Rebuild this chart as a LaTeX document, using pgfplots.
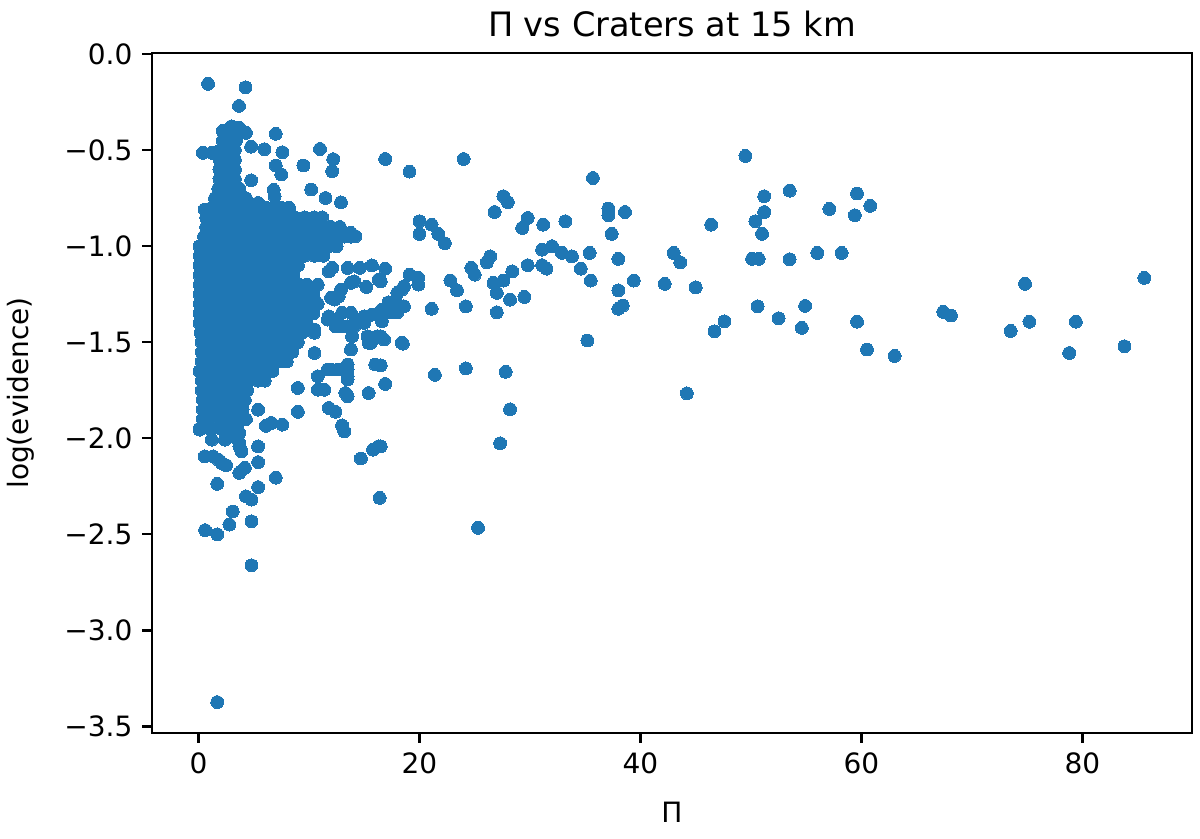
\documentclass[border=0pt]{standalone}
\usepackage{fontspec}
\setmainfont{DejaVu Sans}
\usepackage{pgfplots}
\pgfplotsset{compat=1.18}
\definecolor{mplblue}{RGB}{31,119,180}

\begin{document}
\begin{tikzpicture}
\begin{axis}[
    scale only axis,
    width=371.4pt, height=242.9pt,
    xmin=-4.2, xmax=89.9,
    ymin=-3.534, ymax=0.006,
    axis line style={line width=0.8pt},
    tick style={line width=0.8pt, black},
    tick align=outside,
    major tick length=3.5pt,
    xtick pos=bottom, ytick pos=left,
    xtick={0,20,40,60,80},
    xticklabels={0,20,40,60,80},
    ytick={-3.5,-3.0,-2.5,-2.0,-1.5,-1.0,-0.5,0.0},
    yticklabels={−3.5,−3.0,−2.5,−2.0,−1.5,−1.0,−0.5,0.0},
    tick label style={font=\fontsize{10pt}{12pt}\selectfont},
    every axis title shift=0pt,
    title={Π vs Craters at 15 km},
    title style={font=\fontsize{12pt}{14pt}\selectfont, at={(axis description cs:0.5,1.0235)}, anchor=base},
    xlabel={Π},
    xlabel style={font=\fontsize{10pt}{12pt}\selectfont, at={(axis description cs:0.5,-0.1317)}, anchor=base},
    ylabel={log(evidence)},
    ylabel style={font=\fontsize{10pt}{12pt}\selectfont, at={(axis description cs:-0.126,0.5)}, anchor=center},
    dot/.style={only marks, color=mplblue, mark=*, mark size=2.3pt, mark options={line width=0pt, draw=mplblue, fill=mplblue}},
]
% dense cluster near small Pi
\addplot[dot] coordinates {
(2.2,-0.45)(2.9,-0.45)(3.4,-0.45)
(2.0,-0.50)(2.7,-0.50)(3.3,-0.50)
(1.9,-0.55)(2.6,-0.55)(3.3,-0.55)
(1.9,-0.60)(2.6,-0.60)(3.3,-0.60)
(1.9,-0.65)(2.6,-0.65)(3.3,-0.65)
(1.8,-0.70)(2.5,-0.70)(3.2,-0.70)(3.7,-0.70)
(1.5,-0.75)(2.2,-0.75)(2.9,-0.75)(3.6,-0.75)(4.3,-0.75)
(1.2,-0.80)(1.9,-0.80)(2.6,-0.80)(3.3,-0.80)(4.0,-0.80)(4.7,-0.80)(5.4,-0.80)(6.1,-0.80)(6.8,-0.80)(7.5,-0.80)(8.2,-0.80)
(0.7,-0.85)(1.5,-0.85)(2.4,-0.85)(3.3,-0.85)(4.2,-0.85)(5.1,-0.85)(6.0,-0.85)(6.9,-0.85)(7.8,-0.85)(8.7,-0.85)(9.6,-0.85)(10.5,-0.85)(11.2,-0.85)
(0.7,-0.90)(1.2,-0.90)(2.1,-0.90)(3.0,-0.90)(3.9,-0.90)(4.8,-0.90)(5.7,-0.90)(6.6,-0.90)(7.5,-0.90)(8.4,-0.90)(9.3,-0.90)(10.2,-0.90)(11.1,-0.90)(12.0,-0.90)(12.8,-0.90)
(0.5,-0.95)(1.5,-0.95)(2.4,-0.95)(3.3,-0.95)(4.2,-0.95)(5.1,-0.95)(6.0,-0.95)(6.9,-0.95)(7.8,-0.95)(8.7,-0.95)(9.6,-0.95)(10.5,-0.95)(11.4,-0.95)(12.3,-0.95)(13.2,-0.95)(13.8,-0.95)
(0.1,-1.00)(1.0,-1.00)(1.9,-1.00)(2.8,-1.00)(3.7,-1.00)(4.6,-1.00)(5.5,-1.00)(6.4,-1.00)(7.3,-1.00)(8.2,-1.00)(9.1,-1.00)(10.0,-1.00)(10.9,-1.00)(11.8,-1.00)(12.5,-1.00)
(0.1,-1.05)(0.6,-1.05)(1.5,-1.05)(2.4,-1.05)(3.3,-1.05)(4.2,-1.05)(5.1,-1.05)(6.0,-1.05)(6.9,-1.05)(7.8,-1.05)(8.7,-1.05)(9.6,-1.05)(10.5,-1.05)(11.3,-1.05)
(0.1,-1.10)(1.0,-1.10)(1.9,-1.10)(2.8,-1.10)(3.7,-1.10)(4.6,-1.10)(5.5,-1.10)(6.4,-1.10)(7.3,-1.10)(8.2,-1.10)(9.0,-1.10)
(0.1,-1.15)(0.6,-1.15)(1.5,-1.15)(2.4,-1.15)(3.3,-1.15)(4.2,-1.15)(5.1,-1.15)(6.0,-1.15)(6.9,-1.15)(7.8,-1.15)(8.6,-1.15)
(0.1,-1.20)(1.0,-1.20)(1.9,-1.20)(2.8,-1.20)(3.7,-1.20)(4.6,-1.20)(5.5,-1.20)(6.4,-1.20)(7.3,-1.20)(8.2,-1.20)(9.1,-1.20)(9.8,-1.20)
(0.1,-1.25)(0.6,-1.25)(1.5,-1.25)(2.4,-1.25)(3.3,-1.25)(4.2,-1.25)(5.1,-1.25)(6.0,-1.25)(6.9,-1.25)(7.8,-1.25)(8.7,-1.25)(9.6,-1.25)(10.4,-1.25)
(0.1,-1.30)(1.0,-1.30)(1.9,-1.30)(2.8,-1.30)(3.7,-1.30)(4.6,-1.30)(5.5,-1.30)(6.4,-1.30)(7.3,-1.30)(8.2,-1.30)(9.1,-1.30)(10.0,-1.30)(10.8,-1.30)
(0.1,-1.35)(0.6,-1.35)(1.5,-1.35)(2.4,-1.35)(3.3,-1.35)(4.2,-1.35)(5.1,-1.35)(6.0,-1.35)(6.9,-1.35)(7.8,-1.35)(8.7,-1.35)(9.6,-1.35)(10.4,-1.35)
(0.1,-1.40)(1.0,-1.40)(1.9,-1.40)(2.8,-1.40)(3.7,-1.40)(4.6,-1.40)(5.5,-1.40)(6.4,-1.40)(7.3,-1.40)(8.2,-1.40)(9.1,-1.40)(9.8,-1.40)
(0.2,-1.45)(0.6,-1.45)(1.5,-1.45)(2.4,-1.45)(3.3,-1.45)(4.2,-1.45)(5.1,-1.45)(6.0,-1.45)(6.9,-1.45)(7.8,-1.45)(8.7,-1.45)(9.4,-1.45)
(0.3,-1.50)(1.0,-1.50)(1.9,-1.50)(2.8,-1.50)(3.7,-1.50)(4.6,-1.50)(5.5,-1.50)(6.4,-1.50)(7.3,-1.50)(8.2,-1.50)(9.0,-1.50)
(0.3,-1.55)(0.8,-1.55)(1.5,-1.55)(2.4,-1.55)(3.3,-1.55)(4.2,-1.55)(5.1,-1.55)(6.0,-1.55)(6.9,-1.55)(7.8,-1.55)(8.5,-1.55)
(0.3,-1.60)(1.0,-1.60)(1.9,-1.60)(2.8,-1.60)(3.7,-1.60)(4.6,-1.60)(5.5,-1.60)(6.4,-1.60)(7.3,-1.60)(8.0,-1.60)
(0.1,-1.65)(0.6,-1.65)(1.5,-1.65)(2.4,-1.65)(3.3,-1.65)(4.2,-1.65)(5.1,-1.65)(6.0,-1.65)(6.7,-1.65)
(0.3,-1.70)(1.0,-1.70)(1.9,-1.70)(2.8,-1.70)(3.7,-1.70)(4.6,-1.70)(5.4,-1.70)(6.0,-1.70)
(0.3,-1.75)(0.8,-1.75)(1.5,-1.75)(2.4,-1.75)(3.3,-1.75)(4.0,-1.75)(4.4,-1.75)
(0.4,-1.80)(1.0,-1.80)(1.9,-1.80)(2.8,-1.80)(3.7,-1.80)(4.2,-1.80)
(0.4,-1.85)(0.8,-1.85)(1.5,-1.85)(2.4,-1.85)(3.3,-1.85)(4.0,-1.85)
(0.4,-1.90)(1.0,-1.90)(1.9,-1.90)(2.8,-1.90)(3.7,-1.90)(4.3,-1.90)
(0.1,-1.95)(1.0,-1.95)(2.0,-1.95)(2.9,-1.95)(3.5,-1.95)
};
% scattered points
\addplot[dot] coordinates {
(0.87,-0.155)(4.26,-0.173)(3.67,-0.270)
(2.2,-0.40)(3.0,-0.376)(3.7,-0.384)(4.3,-0.41)(3.1,-0.436)(2.5,-0.462)
(0.4,-0.514)(1.2,-0.514)
(4.77,-0.482)(5.97,-0.495)(7.0,-0.415)(7.6,-0.511)(7.0,-0.580)(7.5,-0.627)(9.5,-0.580)(11.0,-0.494)(12.2,-0.547)(12.1,-0.610)
(4.77,-0.657)(6.8,-0.707)(0.57,-0.809)
(5.4,-0.775)(6.9,-0.74)(10.2,-0.705)(11.5,-0.749)(12.9,-0.772)
(13.8,-0.931)(14.2,-0.948)
(16.9,-0.546)(19.1,-0.612)(24.0,-0.546)(49.5,-0.530)(35.7,-0.645)
(51.2,-0.740)(53.5,-0.711)(51.2,-0.822)(50.4,-0.870)(51.0,-0.936)(46.4,-0.888)
(27.6,-0.740)(28.0,-0.771)(26.8,-0.822)
(37.1,-0.804)(37.1,-0.839)(38.6,-0.822)(37.4,-0.936)
(20.0,-0.870)(20.0,-0.936)(21.1,-0.888)(21.7,-0.936)(22.3,-0.985)
(29.3,-0.905)(29.8,-0.853)(31.2,-0.888)(33.2,-0.870)
(26.4,-1.053)(26.1,-1.084)
(31.1,-1.018)(32.0,-1.000)(32.9,-1.035)(33.8,-1.053)(34.6,-1.117)(35.4,-1.035)
(29.8,-1.099)(31.1,-1.099)(31.5,-1.117)
(38.0,-1.066)(43.0,-1.035)(43.6,-1.084)
(50.1,-1.066)(50.7,-1.066)(53.5,-1.068)(56.0,-1.035)(58.2,-1.035)
(59.6,-0.726)(57.1,-0.806)(60.8,-0.790)(59.4,-0.839)
(16.9,-1.117)(16.5,-1.183)
(19.1,-1.148)(19.9,-1.165)(19.9,-1.200)
(18.4,-1.226)(18.6,-1.209)(18.0,-1.243)
(22.8,-1.179)(23.4,-1.230)
(24.7,-1.113)(25.0,-1.148)
(26.7,-1.191)(27.6,-1.179)(27.0,-1.243)(28.4,-1.131)
(28.2,-1.278)(29.5,-1.264)
(35.5,-1.179)(38.0,-1.230)(39.4,-1.179)(42.2,-1.196)(45.0,-1.214)
(38.0,-1.326)(38.4,-1.309)
(21.1,-1.326)(24.2,-1.313)(27.0,-1.344)
(16.8,-1.344)(17.4,-1.344)(18.0,-1.344)(16.6,-1.391)
(50.6,-1.313)(52.5,-1.375)(54.9,-1.311)(54.6,-1.425)(59.6,-1.393)(60.5,-1.538)(63.0,-1.571)
(67.4,-1.342)(68.1,-1.361)(73.5,-1.441)(75.2,-1.393)(74.8,-1.196)(79.4,-1.393)(78.8,-1.556)(83.8,-1.521)(85.6,-1.165)
(47.6,-1.391)(46.7,-1.443)
(16.5,-1.474)(18.5,-1.507)(35.2,-1.491)
(16.5,-1.620)(16.9,-1.717)(21.4,-1.670)(24.2,-1.636)(27.8,-1.654)
(28.2,-1.849)(44.2,-1.766)(27.3,-2.026)(16.5,-2.042)(16.4,-2.31)(25.3,-2.466)
(13.5,-1.113)(14.6,-1.113)(15.7,-1.100)(16.3,-1.174)(15.2,-1.212)(14.1,-1.183)(12.9,-1.226)(12.3,-1.278)(11.8,-1.131)(12.1,-1.113)
(13.8,-1.191)(12.7,-1.261)(10.8,-1.200)
(17.2,-1.292)(17.8,-1.292)(16.6,-1.330)(15.7,-1.356)(14.8,-1.382)(14.1,-1.417)(13.9,-1.469)(13.0,-1.417)(12.4,-1.417)(13.0,-1.347)(11.8,-1.365)(10.5,-1.434)
(10.5,-1.295)(12.0,-1.269)(13.8,-1.347)(15.0,-1.365)(18.6,-1.313)
(11.7,-1.382)(12.6,-1.399)(13.5,-1.417)(14.4,-1.399)(15.3,-1.469)(16.8,-1.486)(18.4,-1.503)
(15.0,-1.399)(16.8,-1.347)
(10.5,-1.451)(13.8,-1.538)(15.6,-1.503)(16.5,-1.469)(16.2,-1.469)(15.4,-1.503)
(10.5,-1.556)(10.8,-1.677)(12.0,-1.642)(12.6,-1.642)(11.4,-1.747)(13.5,-1.642)(13.5,-1.694)(13.5,-1.781)(16.0,-1.616)(15.4,-1.764)(11.7,-1.642)(10.8,-1.747)(13.3,-1.764)(13.5,-1.616)(13.5,-1.677)
(9.0,-1.738)(9.0,-1.862)(7.6,-1.929)(6.1,-1.935)
(11.8,-1.842)(12.4,-1.862)(13.0,-1.933)(13.2,-1.964)
(14.7,-2.105)(15.8,-2.059)(16.3,-2.042)
(7.0,-2.205)(6.6,-1.920)
(5.4,-1.851)(5.4,-2.042)(5.4,-2.124)(5.4,-2.254)(4.3,-2.302)(4.8,-2.319)(3.1,-2.381)(2.8,-2.449)(0.6,-2.478)(1.7,-2.500)(4.8,-2.432)(4.8,-2.661)(1.7,-3.373)
(0.1,-1.955)(0.57,-2.094)(1.32,-2.094)(1.2,-2.007)(2.4,-2.007)(1.8,-2.111)(2.1,-2.128)(2.5,-2.140)
(3.7,-2.180)(4.2,-2.154)(3.7,-2.042)(3.9,-2.068)(3.7,-2.024)(1.7,-2.237)(3.1,-1.99)(3.7,-1.972)
};
\end{axis}
\pgfresetboundingbox
\path ([shift={(-54.3pt,-37.5pt)}]current axis.south west) rectangle ([shift={(2.9pt,18.9pt)}]current axis.north east);
\end{tikzpicture}
\end{document}
